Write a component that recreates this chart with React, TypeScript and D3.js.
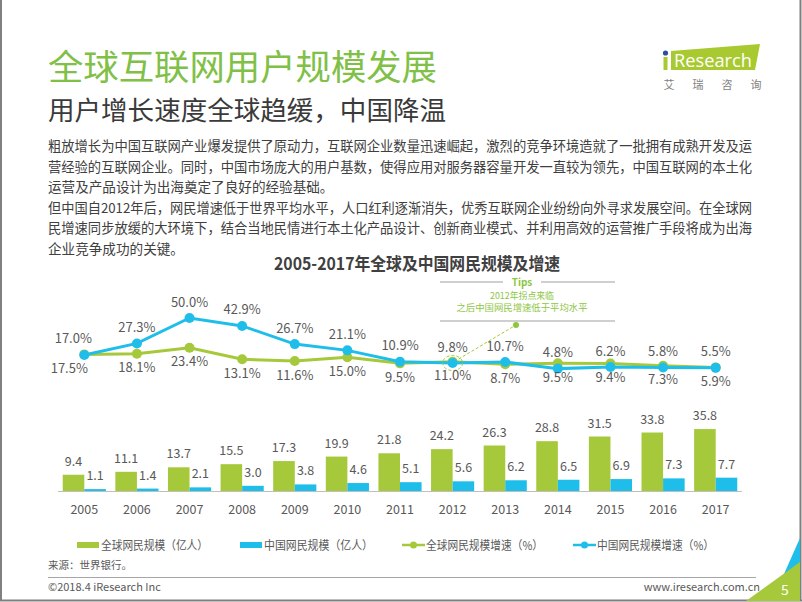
import React from 'react';
import * as d3 from 'd3';

const years = ['2005', '2006', '2007', '2008', '2009', '2010', '2011', '2012', '2013', '2014', '2015', '2016', '2017'];
const globalUsers = [9.4, 11.1, 13.7, 15.5, 17.3, 19.9, 21.8, 24.2, 26.3, 28.8, 31.5, 33.8, 35.8];
const chinaUsers = [1.1, 1.4, 2.1, 3.0, 3.8, 4.6, 5.1, 5.6, 6.2, 6.5, 6.9, 7.3, 7.7];
const globalGrowth = [17.5, 18.1, 23.4, 13.1, 11.6, 15.0, 9.5, 11.0, 8.7, 9.5, 9.4, 7.3, 5.9];
const chinaGrowth = [17.0, 27.3, 50.0, 42.9, 26.7, 21.1, 10.9, 9.8, 10.7, 4.8, 6.2, 5.8, 5.5];

const titleText = '全球互联网用户规模发展';
const subtitleText = '用户增长速度全球趋缓，中国降温';
const paragraph = [
  { t: '粗放增长为中国互联网产业爆发提供了原动力，互联网企业数量迅速崛起，激烈的竞争环境造就了一批拥有成熟开发及运', j: true },
  { t: '营经验的互联网企业。同时，中国市场庞大的用户基数，使得应用对服务器容量开发一直较为领先，中国互联网的本土化', j: true },
  { t: '运营及产品设计为出海奠定了良好的经验基础。', j: false },
  { t: '但中国自2012年后，网民增速低于世界平均水平，人口红利逐渐消失，优秀互联网企业纷纷向外寻求发展空间。在全球网', j: true },
  { t: '民增速同步放缓的大环境下，结合当地民情进行本土化产品设计、创新商业模式、并利用高效的运营推广手段将成为出海', j: true },
  { t: '企业竞争成功的关键。', j: false },
];
const chartTitle = '2005-2017年全球及中国网民规模及增速';
const tipsLines = ['2012年拐点来临', '之后中国网民增速低于平均水平'];
const legendItems = ['全球网民规模（亿人）', '中国网民规模（亿人）', '全球网民规模增速（%）', '中国网民规模增速（%）'];

const GREEN = '#a5c93a';
const BLUE = '#1fbeea';
const TXT = '#595959';
const FONT = '"Noto Sans CJK SC", "Noto Sans", sans-serif';

export default function App() {
  const x = d3.scaleBand<string>().domain(years).range([58, 742]).paddingInner(0.18).paddingOuter(0.09);
  const yBar = d3.scaleLinear().domain([0, 40]).range([491, 491 - 40 * 1.73]);
  const yLine = d3.scaleLinear().domain([0, 50]).range([374, 318]);
  const bw = x.bandwidth() / 2;
  const cx = (y: string) => (x(y) as number) + x.bandwidth() / 2;

  const line = d3.line<number>().x((_, i) => cx(years[i])).y((d) => yLine(d));

  const i2012 = years.indexOf('2012');
  const tipX = 522;

  const legendRects = [
    { x: 77, type: 'rect', color: GREEN, tl: 107 },
    { x: 240, type: 'rect', color: BLUE, tl: 109 },
    { x: 402, type: 'line', color: GREEN, tl: 117 },
    { x: 573, type: 'line', color: BLUE, tl: 117 },
  ];

  return (
    <svg width={802} height={602} style={{ position: 'absolute', left: 0, top: 0, background: '#fff' }} fontFamily={FONT}>
      <rect x={0} y={0} width={802} height={602} fill="#fff" />
      {/* frame */}
      <line x1={1} y1={0} x2={1} y2={601} stroke="#808080" strokeWidth={2} />
      <line x1={800.5} y1={0} x2={800.5} y2={601} stroke="#808080" strokeWidth={2} />
      <line x1={0} y1={600.5} x2={802} y2={600.5} stroke="#808080" strokeWidth={2} />

      {/* titles */}
      <text x={48} y={80} fontSize={35} fill="#80c046" textLength={389} lengthAdjust="spacingAndGlyphs">{titleText}</text>
      <text x={48} y={120} fontSize={26} fill="#3a3a3a" textLength={398} lengthAdjust="spacingAndGlyphs">{subtitleText}</text>

      {/* logo */}
      <polygon points="671,51 760,44 755,70 671,70" fill="#a8c92f" />
      <circle cx={665.5} cy={53} r={2.6} fill="#2b4ea0" />
      <rect x={663.5} y={57} width={4} height={13} fill="#a8c92f" />
      <text x={674} y={67} fontSize={18} fill="#fff" fontFamily='"Open Sans", "Noto Sans", sans-serif' textLength={78} lengthAdjust="spacingAndGlyphs">Research</text>
      {['艾', '瑞', '咨', '询'].map((c, i) => (
        <text key={c} x={669 + i * 29} y={89} fontSize={11} fill="#7f7f7f" textAnchor="middle">{c}</text>
      ))}

      {/* paragraph */}
      {paragraph.map((p, i) => (
        <text key={i} x={48} y={151 + i * 20.6} fontSize={13.6} fill="#404040"
          {...(p.j ? { textLength: 704, lengthAdjust: 'spacingAndGlyphs' } : {})}>{p.t}</text>
      ))}

      {/* chart title */}
      <text x={417} y={270} fontSize={17.5} fontWeight="bold" fill="#404040" textAnchor="middle" textLength={286} lengthAdjust="spacingAndGlyphs">{chartTitle}</text>

      {/* tips */}
      <line x1={440} y1={282} x2={503} y2={282} stroke="#bfbfbf" strokeWidth={1.5} />
      <line x1={541} y1={282} x2={615} y2={282} stroke="#bfbfbf" strokeWidth={1.5} />
      <text x={tipX} y={286} fontSize={10} fontWeight="bold" fill="#8dc63f" textAnchor="middle">Tips</text>
      <text x={tipX} y={298.5} fontSize={8.6} fill="#8dc63f" textAnchor="middle" textLength={64} lengthAdjust="spacingAndGlyphs">{tipsLines[0]}</text>
      <text x={tipX} y={311} fontSize={8.6} fill="#8dc63f" textAnchor="middle" textLength={131} lengthAdjust="spacingAndGlyphs">{tipsLines[1]}</text>
      <line x1={440} y1={321} x2={615} y2={321} stroke="#bfbfbf" strokeWidth={1.5} />

      {/* lines */}
      <path d={line(globalGrowth) || ''} fill="none" stroke={GREEN} strokeWidth={3} />
      <path d={line(chinaGrowth) || ''} fill="none" stroke={BLUE} strokeWidth={3} />
      {globalGrowth.map((v, i) => (
        <circle key={'g' + i} cx={cx(years[i])} cy={yLine(v)} r={5} fill={GREEN} />
      ))}
      {chinaGrowth.map((v, i) => (
        <circle key={'c' + i} cx={cx(years[i])} cy={yLine(v)} r={5} fill={BLUE} />
      ))}
      {/* 2012 annotation */}
      <ellipse cx={cx(years[i2012])} cy={yLine(chinaGrowth[i2012])} rx={10} ry={7.5} fill="none" stroke="#a5c93a" strokeWidth={1} strokeDasharray="3,2" />
      <line x1={cx(years[i2012]) + 6} y1={yLine(chinaGrowth[i2012]) - 4} x2={516} y2={325} stroke="#a5c93a" strokeWidth={1} strokeDasharray="3,2" />
      <circle cx={516} cy={325} r={3} fill="#8dc63f" />

      {chinaGrowth.map((v, i) => (
        <text key={'cl' + i} x={cx(years[i]) + (i === 0 ? -11 : 0)} y={yLine(v) - 16 + 4.5} fontSize={13} fill={TXT} textAnchor="middle">{v.toFixed(1)}%</text>
      ))}
      {globalGrowth.map((v, i) => (
        <text key={'gl' + i} x={cx(years[i]) + (i === 0 ? -15 : 0)} y={yLine(v) + 14 + 4.5} fontSize={13} fill={TXT} textAnchor="middle">{v.toFixed(1)}%</text>
      ))}

      {/* bars */}
      {globalUsers.map((v, i) => (
        <rect key={'gb' + i} x={x(years[i]) as number} y={yBar(v)} width={bw} height={yBar(0) - yBar(v)} fill={GREEN} />
      ))}
      {chinaUsers.map((v, i) => (
        <rect key={'cb' + i} x={(x(years[i]) as number) + bw} y={yBar(v)} width={bw} height={yBar(0) - yBar(v)} fill={BLUE} />
      ))}
      {globalUsers.map((v, i) => (
        <text key={'gbl' + i} x={(x(years[i]) as number) + bw / 2} y={yBar(v) - 9} fontSize={12.5} fill={TXT} textAnchor="middle">{v.toFixed(1)}</text>
      ))}
      {chinaUsers.map((v, i) => (
        <text key={'cbl' + i} x={(x(years[i]) as number) + bw * 1.5} y={yBar(v) - 9} fontSize={12.5} fill={TXT} textAnchor="middle">{v.toFixed(1)}</text>
      ))}
      <line x1={58} y1={491.5} x2={742} y2={491.5} stroke="#bfbfbf" strokeWidth={1} />
      {years.map((y) => (
        <text key={'yr' + y} x={cx(y)} y={514} fontSize={12.5} fill={TXT} textAnchor="middle">{y}</text>
      ))}

      {/* legend */}
      {legendRects.map((l, i) => (
        <g key={'lg' + i}>
          {l.type === 'rect' ? (
            <rect x={l.x} y={542} width={22} height={6} fill={l.color} />
          ) : (
            <g>
              <line x1={l.x} y1={545} x2={l.x + 23} y2={545} stroke={l.color} strokeWidth={2.5} />
              <circle cx={l.x + 11.5} cy={545} r={3.5} fill={l.color} />
            </g>
          )}
          <text x={l.x + 24} y={549.5} fontSize={12} fill={TXT} textLength={l.tl} lengthAdjust="spacingAndGlyphs">{legendItems[i]}</text>
        </g>
      ))}

      {/* footer */}
      <text x={48} y={569} fontSize={10.5} fill={TXT}>来源：世界银行。</text>
      <line x1={48} y1={577.5} x2={756} y2={577.5} stroke="#a6a6a6" strokeWidth={1} />
      <text x={48} y={591} fontSize={11} fill={TXT}>©2018.4 iResearch Inc</text>
      <text x={760} y={591} fontSize={11} fill={TXT} textAnchor="end">www.iresearch.com.cn</text>
      <polygon points="772,601 800,538 800,601" fill="#1fbeea" />
      <polygon points="746,601 800,562 800,601" fill="#a5c93a" />
      <text x={785} y={595} fontSize={14} fill="#fff" textAnchor="middle">5</text>
    </svg>
  );
}
